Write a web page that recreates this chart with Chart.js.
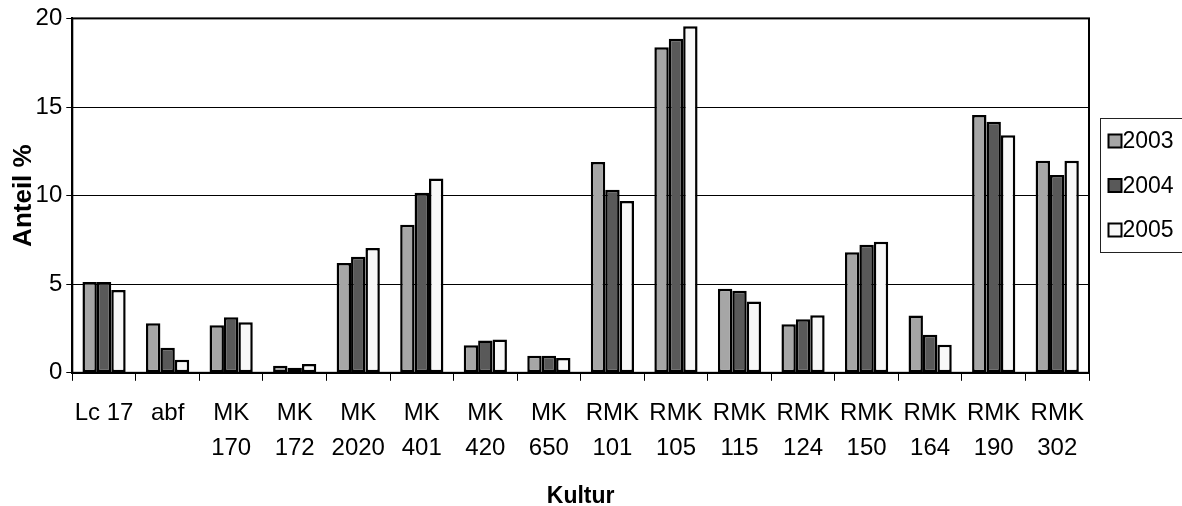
<!DOCTYPE html>
<html>
<head>
<meta charset="utf-8">
<script src="https://cdn.jsdelivr.net/npm/chart.js@4.4.1/dist/chart.umd.min.js"></script>
<style>
  html, body { margin: 0; padding: 0; background: #fff; }
  #wrap { position: relative; width: 1182px; height: 506px; }
</style>
</head>
<body>
<div id="wrap"><canvas id="chart" width="1182" height="506"></canvas></div>
<script>
// Kultur categories (multi-line labels)
const kulturen = [
    ['Lc 17'], ['abf'], ['MK', '170'], ['MK', '172'], ['MK', '2020'], ['MK', '401'],
    ['MK', '420'], ['MK', '650'], ['RMK', '101'], ['RMK', '105'], ['RMK', '115'],
    ['RMK', '124'], ['RMK', '150'], ['RMK', '164'], ['RMK', '190'], ['RMK', '302']
];

const jahre = ['2003', '2004', '2005'];
const anteil2003 = [5.13, 2.8, 2.68, 0.4, 6.2, 8.36, 1.55, 0.97, 11.9, 18.37, 4.74, 2.74, 6.8, 3.24, 14.55, 11.97];
const anteil2004 = [5.13, 1.42, 3.13, 0.28, 6.55, 10.16, 1.82, 0.97, 10.33, 18.85, 4.63, 3.02, 7.23, 2.15, 14.17, 11.17];
const anteil2005 = [4.67, 0.74, 2.85, 0.5, 7.05, 10.97, 1.88, 0.84, 9.7, 19.55, 4.03, 3.25, 7.4, 1.58, 13.4, 11.97];
const farben = ['#a6a6a6', '#595959', '#f8f8f8'];

const yTicks = [0, 5, 10, 15, 20];

const FONT = "'Liberation Sans', Arial, sans-serif";

// plot frame + boxed legend on the right (Excel style)
const framePlugin = {
    id: 'frame',
    afterDraw(chart) {
        const { ctx, chartArea: a } = chart;
        ctx.save();
        ctx.strokeStyle = '#000';
        ctx.lineWidth = 2;
        ctx.strokeRect(a.left, a.top, a.right - a.left, a.bottom - a.top);

        // legend
        const boxL = a.right + 11.5, boxT = 118.5, boxB = 252.5;
        ctx.lineWidth = 1;
        ctx.strokeStyle = '#222';
        ctx.strokeRect(boxL, boxT, chart.width - boxL + 10, boxB - boxT);
        ctx.font = '23px ' + FONT;
        ctx.textBaseline = 'middle';
        chart.data.datasets.forEach((ds, i) => {
            const cy = 141 + i * 44.5;
            ctx.fillStyle = ds.backgroundColor;
            ctx.fillRect(boxL + 8, cy - 6.5, 13, 13);
            ctx.lineWidth = 2;
            ctx.strokeStyle = '#000';
            ctx.strokeRect(boxL + 8, cy - 6.5, 13, 13);
            ctx.fillStyle = '#000';
            ctx.fillText(ds.label, boxL + 22, cy + 1);
        });
        ctx.restore();
    }
};

new Chart(document.getElementById('chart'), {
    type: 'bar',
    data: {
        labels: kulturen,
        datasets: [anteil2003, anteil2004, anteil2005].map((d, i) => ({
            label: jahre[i],
            data: d,
            backgroundColor: farben[i],
            borderColor: '#000',
            borderWidth: 2.5,
            borderSkipped: false
        }))
    },
    options: {
        responsive: false,
        animation: false,
        categoryPercentage: 0.68,
        barPercentage: 1.0,
        layout: { padding: { top: 2, right: 93, left: 16, bottom: 1 } },
        plugins: {
            legend: { display: false },
            tooltip: { enabled: false }
        },
        scales: {
            x: {
                grid: { display: true, drawOnChartArea: false, color: '#000', tickLength: 8, offset: true },
                border: { display: true, color: '#000', width: 2 },
                ticks: {
                    color: '#000',
                    maxRotation: 0,
                    autoSkip: false,
                    padding: 15,
                    font: { family: FONT, size: 24, lineHeight: 1.46 }
                },
                title: {
                    display: true,
                    text: 'Kultur',
                    color: '#000',
                    padding: { top: 8, bottom: 0 },
                    font: { family: FONT, size: 23, weight: 'bold', lineHeight: 0.7 }
                }
            },
            y: {
                min: 0,
                max: 20,
                afterBuildTicks(axis) { axis.ticks = yTicks.map(v => ({ value: v })); },
                grid: { color: '#000', lineWidth: 1, tickLength: 6 },
                border: { display: true, color: '#000', width: 2 },
                ticks: {
                    color: '#000',
                    padding: 4,
                    font: { family: FONT, size: 24 }
                },
                title: {
                    display: true,
                    text: 'Anteil %',
                    color: '#000',
                    padding: 0,
                    font: { family: FONT, size: 26, weight: 'bold', lineHeight: 0.6 }
                }
            }
        }
    },
    plugins: [framePlugin]
});
</script>
</body>
</html>
